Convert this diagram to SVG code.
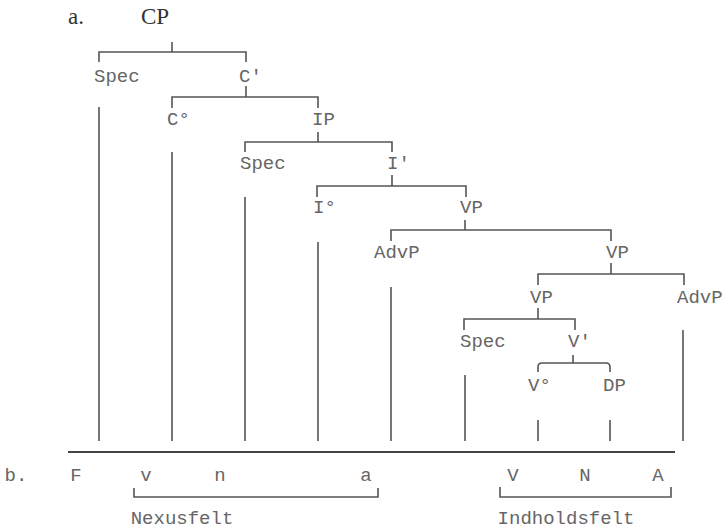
<svg xmlns="http://www.w3.org/2000/svg" width="725" height="529" viewBox="0 0 725 529">
<style>
.lbl{font-family:"Liberation Mono","Courier New",monospace;font-size:19px;fill:#666}
.ser{font-family:"Liberation Serif","Times New Roman",serif;font-size:23px;fill:#333}
.ln{stroke:#555;stroke-width:1.6;fill:none}
.bar{stroke:#444;stroke-width:1.8;fill:none}
</style>
<rect width="725" height="529" fill="#fff"/>
<g id="title">
<text class="ser" x="68" y="24">a.</text>
<text class="ser" x="141" y="24">CP</text>
</g>
<g id="connectors">
<path class="ln" d="M172,42V52M99,62V52H246V62"/>
<path class="ln" d="M246,86V97M172,108V97H318V108"/>
<path class="ln" d="M318,132V142M245,152V142H392V152"/>
<path class="ln" d="M392,175V186M317,197V186H466V197"/>
<path class="ln" d="M465,220V230M391,241V230H611V241"/>
<path class="ln" d="M611,263V274M538,285V274H684V285"/>
<path class="ln" d="M538,308V319M464,330V319H575V330"/>
<path class="ln" d="M573,355V363M538,372V367Q538,363 542,363H606Q610,363 610,367V372"/>
<path class="ln" d="M99,107V441M172,152V441M245,197V441M318,242V441M391,287V441M465,375V441M538,420V441M610,420V441M683,330V441"/>
<path class="bar" d="M68,452H675"/>
<path class="ln" d="M134,488V497H378V488"/>
<path class="ln" d="M500,487V497H671V487"/>
</g>
<g id="n-spec1"><text class="lbl" x="94" y="82">Spec</text></g>
<g id="n-cbar"><text class="lbl" x="239" y="82">C'</text></g>
<g id="n-c0"><text class="lbl" x="167" y="125">C°</text></g>
<g id="n-ip"><text class="lbl" x="312" y="125">IP</text></g>
<g id="n-spec2"><text class="lbl" x="240" y="169">Spec</text></g>
<g id="n-ibar"><text class="lbl" x="387" y="169">I'</text></g>
<g id="n-i0"><text class="lbl" x="313" y="213">I°</text></g>
<g id="n-vp1"><text class="lbl" x="460" y="213">VP</text></g>
<g id="n-advp1"><text class="lbl" x="374" y="258">AdvP</text></g>
<g id="n-vp2"><text class="lbl" x="606" y="258">VP</text></g>
<g id="n-vp3"><text class="lbl" x="530" y="303">VP</text></g>
<g id="n-advp2"><text class="lbl" x="677" y="303">AdvP</text></g>
<g id="n-spec3"><text class="lbl" x="460" y="347">Spec</text></g>
<g id="n-vbar"><text class="lbl" x="568" y="347">V'</text></g>
<g id="n-v0"><text class="lbl" x="528" y="391">V°</text></g>
<g id="n-dp"><text class="lbl" x="603" y="391">DP</text></g>
<g id="fields" class="lbl" text-anchor="middle">
<text x="16" y="481">b.</text>
<text x="76" y="481">F</text>
<text x="146" y="481">v</text>
<text x="220" y="481">n</text>
<text x="366" y="481">a</text>
<text x="513" y="481">V</text>
<text x="585" y="481">N</text>
<text x="658" y="481">A</text>
<text x="182" y="524">Nexusfelt</text>
<text x="566" y="524">Indholdsfelt</text>
</g>
</svg>
